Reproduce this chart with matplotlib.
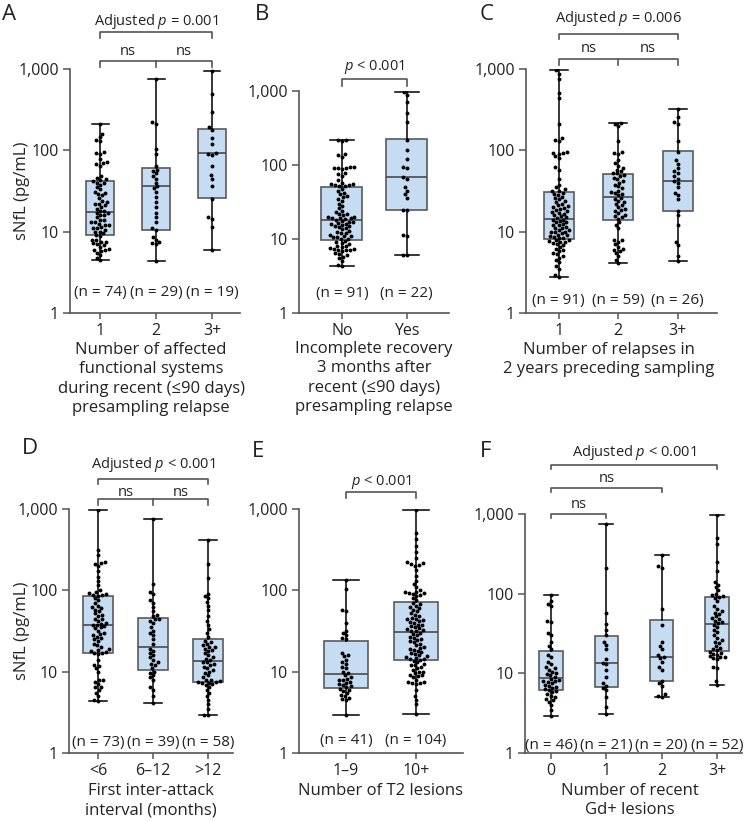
import matplotlib
matplotlib.use('Agg')
import matplotlib.pyplot as plt
import numpy as np
import pandas as pd
import seaborn as sns
from matplotlib.ticker import NullLocator

plt.rcParams['font.family'] = ['Open Sans', 'DejaVu Sans']
plt.rcParams['mathtext.fontset'] = 'custom'
plt.rcParams['mathtext.rm'] = 'Open Sans'
plt.rcParams['mathtext.it'] = 'Open Sans:italic'

# ---- datos (sNfL, pg/mL) ----
# A: sistemas funcionales afectados
a_labels = ['1', '2', '3+']
a_n = [74, 29, 19]
a_g1 = [210, 160, 145, 135, 130, 95, 92, 90, 78, 72, 70, 68, 65, 48, 46, 44, 43, 42,
        40, 40, 38, 35, 33, 31, 30, 29, 28, 26, 24, 23, 22, 22, 21, 20, 19, 18, 18,
        17, 17, 16, 16, 15, 14, 14, 13, 13, 12.5, 12, 12, 11.5, 11, 11, 10.5, 10, 10, 9.5,
        9, 8.8, 8, 7.8, 7.5, 7.4, 7.2, 7, 6.8, 6.5, 6.2, 6, 6, 5.8, 5.5, 5.2, 4.8, 4.5]
a_g2 = [750, 220, 210, 105, 90, 65, 58, 55, 52, 48, 45, 40, 36, 34, 31, 27, 23, 20, 17,
        15, 13, 11, 10.5, 8.5, 8, 7.5, 7.2, 7, 4.3]
a_g3 = [950, 490, 300, 195, 180, 140, 120, 92, 90, 88, 65, 50, 45, 36, 25, 15, 14.5, 11.5, 6]
a_q1 = [9.2, 10.5, 26]
a_med = [17.5, 36, 92]
a_q3 = [42, 60, 185]

# B: recuperacion incompleta
b_labels = ['No', 'Yes']
b_n = [91, 22]
b_no = [220, 215, 210, 140, 135, 130, 95, 93, 92, 90, 90, 88, 78, 75, 72, 62, 58, 56, 55, 54, 53, 52, 52,
        48, 44, 42, 40, 38, 37, 35, 33, 30, 28, 26, 24, 23, 22, 22, 21, 20, 20, 19.5, 19, 19, 18.5, 18,
        17.5, 17, 17, 16.5, 16, 16, 15.5, 15, 15, 14.5, 14, 13.5, 13, 12.5, 12, 12, 11.5, 11, 11, 10.5, 10.5, 10, 10,
        9.5, 9, 8.8, 8.5, 8, 8, 7.8, 7.5, 7.4, 7.3, 7.2, 7.1, 7, 6.8, 6.5, 6.2, 6, 5.8, 5.5, 5, 4.5, 4.3]
b_yes = [960, 880, 700, 500, 380, 220, 160, 120, 95, 90, 68, 65, 50, 45, 40, 36, 25, 25, 11.5, 11, 6, 6]
b_q1 = [9.8, 25]
b_med = [18, 68]
b_q3 = [51, 225]

# C: recaidas en 2 anos
c_labels = ['1', '2', '3+']
c_n = [91, 59, 26]
c_g1 = [960, 880, 750, 500, 440, 210, 140, 135, 130, 95, 93, 92, 90, 85, 80, 62, 58, 45, 38, 35, 33, 32, 32,
        30, 29, 28, 27, 26, 25, 24, 23, 22, 21, 20.5, 20, 19.5, 19, 18.5, 18, 17.5, 17, 16.5, 16, 15.5, 15, 14.8,
        14, 14, 13.5, 13, 13, 12.5, 12, 12, 11.5, 11, 11, 10.5, 10.5, 10, 10, 9.8, 9.5, 9.2, 9, 8.8, 8.6, 8.4, 8.3,
        8, 7.8, 7.6, 7.5, 7.4, 7.2, 7, 6.8, 6.5, 6.2, 6, 5.8, 5.5, 5.3, 5, 4.8, 4.5, 4.2, 3.8, 3.5, 2.9, 2.8]
c_g2 = [215, 210, 200, 130, 95, 92, 90, 75, 70, 65, 60, 58, 55, 53, 52,
        50, 48, 46, 44, 42, 40, 38, 36, 34, 32, 31, 30, 29, 28,
        26, 25, 24, 23, 22, 21, 20, 19, 18.5, 18, 17, 16, 15.5, 15, 14.5,
        13, 12, 11, 8, 7.8, 7.5, 7, 6.5, 6.2, 6, 5.8, 5.5, 5, 4.5, 4.1]
c_g3 = [320, 260, 220, 210, 130, 95, 75, 68, 60, 55, 52, 48, 45, 42, 40, 35, 30, 28, 25,
        18, 16, 12, 7.5, 6.8, 5, 4.3]
c_q1 = [8.2, 14, 18]
c_med = [14.5, 27, 42]
c_q3 = [31, 51, 97]

# D: primer intervalo entre ataques
d_labels = ['<6', '6\u201312', '>12']
d_n = [73, 39, 58]
d_g1 = [970, 310, 270, 220, 215, 210, 200, 175, 145, 130, 115, 100, 95, 92, 90, 88, 87, 86,
        80, 75, 70, 65, 62, 60, 58, 55, 52, 50, 48, 45, 44, 42, 40, 39, 38, 37.5,
        36, 35, 34, 32, 30, 29, 28, 27, 26, 25, 24, 22, 21, 20, 19, 18.5, 18, 17.5, 17.2,
        16.8, 16.5, 14, 12, 11.8, 11, 10, 8, 7.8, 7.5, 7, 6.5, 6.4, 6, 5.5, 5, 4.5, 4.3]
d_g2 = [760, 120, 95, 90, 75, 70, 62, 55, 50, 48, 45, 44, 42, 40, 35, 32, 30, 28, 25, 22,
        19, 18, 17, 16, 15, 14, 13, 12.5, 12, 11, 10, 9.5, 9, 8.5, 8, 6.5, 6, 5, 4.1]
d_g3 = [420, 210, 140, 90, 85, 80, 72, 65, 58, 48, 42, 38, 33, 30, 27,
        24, 23, 22, 21, 20, 20, 19, 18.5, 18, 17, 16, 15, 14.5, 14,
        13, 13, 12.5, 12, 11.5, 11, 10.5, 10, 9.5, 9, 8.5, 8, 7.8, 7.6, 7.5,
        7.4, 7.3, 7.2, 7, 6.8, 6.5, 6, 5.5, 5, 4.5, 4, 3.5, 2.9, 2.9]
d_q1 = [17, 10.5, 7.5]
d_med = [37, 20, 13.5]
d_q3 = [85, 46, 25]

# E: lesiones T2
e_labels = ['1\u20139', '10+']
e_n = [41, 104]
e_g1 = [135, 105, 58, 55, 40, 32, 30, 28, 26, 25,
        17, 16, 15.5, 14, 13, 12.5, 11.5, 11, 10, 9.5,
        9, 8.5, 8.2, 8, 7.8, 7.5, 7.2, 7, 6.8, 6.6, 6.4,
        6.2, 6, 5.8, 5.5, 5.2, 5, 4.8, 4.6, 4.5, 2.9]
e_g2 = [960, 500, 430, 350, 300, 250, 220, 215, 210, 205, 200, 180, 150, 130, 120, 110, 100, 95, 95, 93,
        92, 90, 88, 85, 80, 75,
        70, 68, 65, 62, 60, 58, 55, 52, 50, 48, 46, 45, 44, 43, 42, 41, 40, 38, 37, 36, 35, 34, 33, 32.5,
        32, 31.5,
        30, 29, 28, 27, 26, 25, 24.5, 24, 23, 22, 21, 20, 19.5, 19, 18.5, 18, 17.5, 17, 16.5, 16, 15.5, 15,
        14.8, 14.5, 14.3, 14.1,
        13.5, 13, 12.5, 12, 12, 11.5, 11, 10.5, 10, 9.8, 9.5, 9.2, 9, 8.8, 8.5, 8, 7.5, 7.4, 7.3, 7.2, 7,
        6, 5, 4.5, 4, 3]
e_q1 = [6.3, 14]
e_med = [9.3, 31]
e_q3 = [24, 72]

# F: lesiones Gd+ recientes
f_labels = ['0', '1', '2', '3+']
f_n = [46, 21, 20, 52]
f_g0 = [95, 80, 75, 70, 45, 44, 32, 30, 25, 22, 20,
        17, 16, 14, 13, 12, 11.5, 11, 10.5, 10, 9.8, 9.5, 9,
        8.5, 8.3, 8, 8, 7.8, 7.5, 7.2, 7, 6.8, 6.6, 6.4, 6.2,
        6, 5.8, 5.5, 5.2, 5, 4.8, 4.6, 4.4, 4, 3.5, 2.9]
f_g1 = [750, 210, 58, 42, 35, 30, 25, 23, 20, 15, 13.5, 13, 11, 9, 7.5, 7, 6.5, 6.2, 5, 3.8, 3.1]
f_g2 = [310, 220, 210, 65, 40, 25, 22, 20, 17, 16, 15.5, 14, 12, 11, 8, 7.5, 7, 5.5, 5.2, 5.1]
f_g3 = [960, 500, 420, 250, 190, 140, 130, 120, 110, 100, 95, 93, 92,
        88, 80, 70, 65, 60, 58, 55, 52, 50, 48, 46, 44, 43,
        41, 38, 35, 33, 30, 28, 26, 25, 24, 22, 21, 20, 19.5,
        18.5, 18, 17.5, 17, 16.5, 16, 16, 15.5, 15, 12, 11.5, 8, 7.2]
f_q1 = [6.1, 6.7, 8, 19]
f_med = [8.7, 13.5, 16, 42]
f_q3 = [19, 29, 47, 90]

W, H = 747, 821
fig = plt.figure(figsize=(W / 100, H / 100), dpi=100)

txt = '#222222'
gris = '#555555'


def ejes(l, t, r, b):
    ax = fig.add_axes([l / W, 1 - b / H, (r - l) / W, (b - t) / H])
    return ax, b - t


def panel(ax, datos, etiquetas, q1, med, q3, ns, xlim, ancho, ny):
    pos = np.arange(len(datos))
    ax.set_yscale('log')
    ax.set_ylim(1, 1000)
    stats = []
    for i in range(len(datos)):
        stats.append(dict(med=med[i], q1=q1[i], q3=q3[i],
                          whislo=min(datos[i]), whishi=max(datos[i]), fliers=[]))
    ax.bxp(stats, positions=pos, widths=ancho, capwidths=ancho * 0.6,
           patch_artist=True, showfliers=False, zorder=1,
           boxprops=dict(facecolor='#c6dcf2', edgecolor='#5a5a5a', linewidth=1.2),
           medianprops=dict(color='#4a4a4a', linewidth=1.2),
           whiskerprops=dict(color='black', linewidth=1.1),
           capprops=dict(color='black', linewidth=1.1))
    df = pd.DataFrame({'g': np.repeat(etiquetas, [len(d) for d in datos]),
                       'v': np.concatenate(datos)})
    sns.swarmplot(data=df, x='g', y='v', order=etiquetas, color='black',
                  size=2.8, ax=ax, zorder=3)
    ax.set_xlabel('')
    ax.set_ylabel('')
    ax.set_xlim(xlim)
    ax.set_xticks(pos)
    ax.set_xticklabels(etiquetas)
    ax.set_yticks([1, 10, 100, 1000])
    ax.set_yticklabels(['1', '10', '100', '1,000'])
    ax.yaxis.set_minor_locator(NullLocator())
    for s in ['top', 'right']:
        ax.spines[s].set_visible(False)
    for s in ['left', 'bottom']:
        ax.spines[s].set_color(gris)
        ax.spines[s].set_linewidth(1.2)
    ax.tick_params(axis='y', length=5, width=1.1, color=gris, labelsize=11.5, labelcolor=txt, pad=3)
    ax.tick_params(axis='x', length=4, width=1.1, color=gris, labelsize=11.5, labelcolor=txt, pad=3)
    ax.patch.set_alpha(0)
    tr = ax.get_xaxis_transform()
    for i, n in enumerate(ns):
        ax.text(i, ny, '(n = %d)' % n, transform=tr, ha='center', va='center',
                fontsize=11, color=txt)


def corchete(ax, h, x1, x2, dy, etiqueta, dyt, medios=(), largo=6):
    tr = ax.get_xaxis_transform()
    y = 1 + dy / h
    y0 = 1 + (dy - largo) / h
    ax.plot([x1, x1, x2, x2], [y0, y, y, y0], transform=tr, color=gris,
            lw=1.2, clip_on=False)
    for m in medios:
        ax.plot([m, m], [y, y0], transform=tr, color=gris, lw=1.2, clip_on=False)
    ax.text((x1 + x2) / 2, 1 + dyt / h, etiqueta, transform=tr, ha='center',
            va='center', fontsize=10.5, color=txt)


def ns_doble(ax, h, dyt):
    tr = ax.get_xaxis_transform()
    for x in [0.5, 1.5]:
        ax.text(x, 1 + dyt / h, 'ns', transform=tr, ha='center', va='center',
                fontsize=10.5, color=txt)


# A
axA, hA = ejes(70, 69, 240, 313)
panel(axA, [a_g1, a_g2, a_g3], a_labels, a_q1, a_med, a_q3, a_n, (-0.54, 2.5), 0.5, 0.086)
corchete(axA, hA, 0, 2, 37, 'Adjusted $p$ = 0.001', 47)
corchete(axA, hA, 0, 2, 8, '', 17, medios=[1])
ns_doble(axA, hA, 17)

# B
axB, hB = ejes(299, 91, 449, 313)
panel(axB, [b_no, b_yes], b_labels, b_q1, b_med, b_q3, b_n, (-0.66, 1.65), 0.63, 0.09)
corchete(axB, hB, 0, 1, 12, '$p$ < 0.001', 24, largo=7)

# C
axC, hC = ejes(526, 69, 717, 313)
panel(axC, [c_g1, c_g2, c_g3], c_labels, c_q1, c_med, c_q3, c_n, (-0.55, 2.66), 0.5, 0.053)
corchete(axC, hC, 0, 2, 35, 'Adjusted $p$ = 0.006', 50, largo=5)
corchete(axC, hC, 0, 2, 10, '', 20, medios=[1])
ns_doble(axC, hC, 20)

# D
axD, hD = ejes(69, 509, 233, 753)
panel(axD, [d_g1, d_g2, d_g3], d_labels, d_q1, d_med, d_q3, d_n, (-0.53, 2.45), 0.55, 0.045)
corchete(axD, hD, 0, 2, 30, 'Adjusted $p$ < 0.001', 45, largo=5)
corchete(axD, hD, 0, 2, 10, '', 17, medios=[1])
ns_doble(axD, hD, 17)

# E
axE, hE = ejes(299, 509, 463, 753)
panel(axE, [e_g1, e_g2], e_labels, e_q1, e_med, e_q3, e_n, (-0.67, 1.67), 0.64, 0.053)
corchete(axE, hE, 0, 1, 17, '$p$ < 0.001', 27)

# F
axF, hF = ejes(525, 514, 742, 753)
panel(axF, [f_g0, f_g1, f_g2, f_g3], f_labels, f_q1, f_med, f_q3, f_n, (-0.47, 3.45), 0.42, 0.033)
corchete(axF, hF, 0, 3, 49, 'Adjusted $p$ < 0.001', 62, largo=4)
corchete(axF, hF, 0, 2, 26, 'ns', 36, largo=4)
corchete(axF, hF, 0, 1, 0, 'ns', 10, largo=4)

# etiquetas de ejes x
xl = dict(ha='center', va='top', fontsize=12, color=txt, linespacing=1.28)
fig.text(151 / W, 1 - 342 / H, 'Number of affected\nfunctional systems\nduring recent (\u226490 days)\npresampling relapse', **xl)
fig.text(374 / W, 1 - 341 / H, 'Incomplete recovery\n3 months after\nrecent (\u226490 days)\npresampling relapse', **xl)
fig.text(609 / W, 1 - 342 / H, 'Number of relapses in\n2 years preceding sampling', **xl)
fig.text(151 / W, 1 - 783 / H, 'First inter-attack\ninterval (months)', **xl)
fig.text(381 / W, 1 - 783 / H, 'Number of T2 lesions', **xl)
fig.text(630 / W, 1 - 783 / H, 'Number of recent\nGd+ lesions', **xl)

# eje y
fig.text(22 / W, 1 - 191 / H, 'sNfL (pg/mL)', rotation=90, ha='center', va='center', fontsize=12, color=txt)
fig.text(22 / W, 1 - 631 / H, 'sNfL (pg/mL)', rotation=90, ha='center', va='center', fontsize=12, color=txt)

# letras de panel
for letra, x, y in [('A', 2, 15), ('B', 255, 15), ('C', 480, 15),
                    ('D', 22, 449), ('E', 252, 451), ('F', 480, 451)]:
    fig.text(x / W, 1 - y / H, letra, ha='left', va='center', fontsize=16, color=txt)

fig.savefig('out.png', dpi=100)
